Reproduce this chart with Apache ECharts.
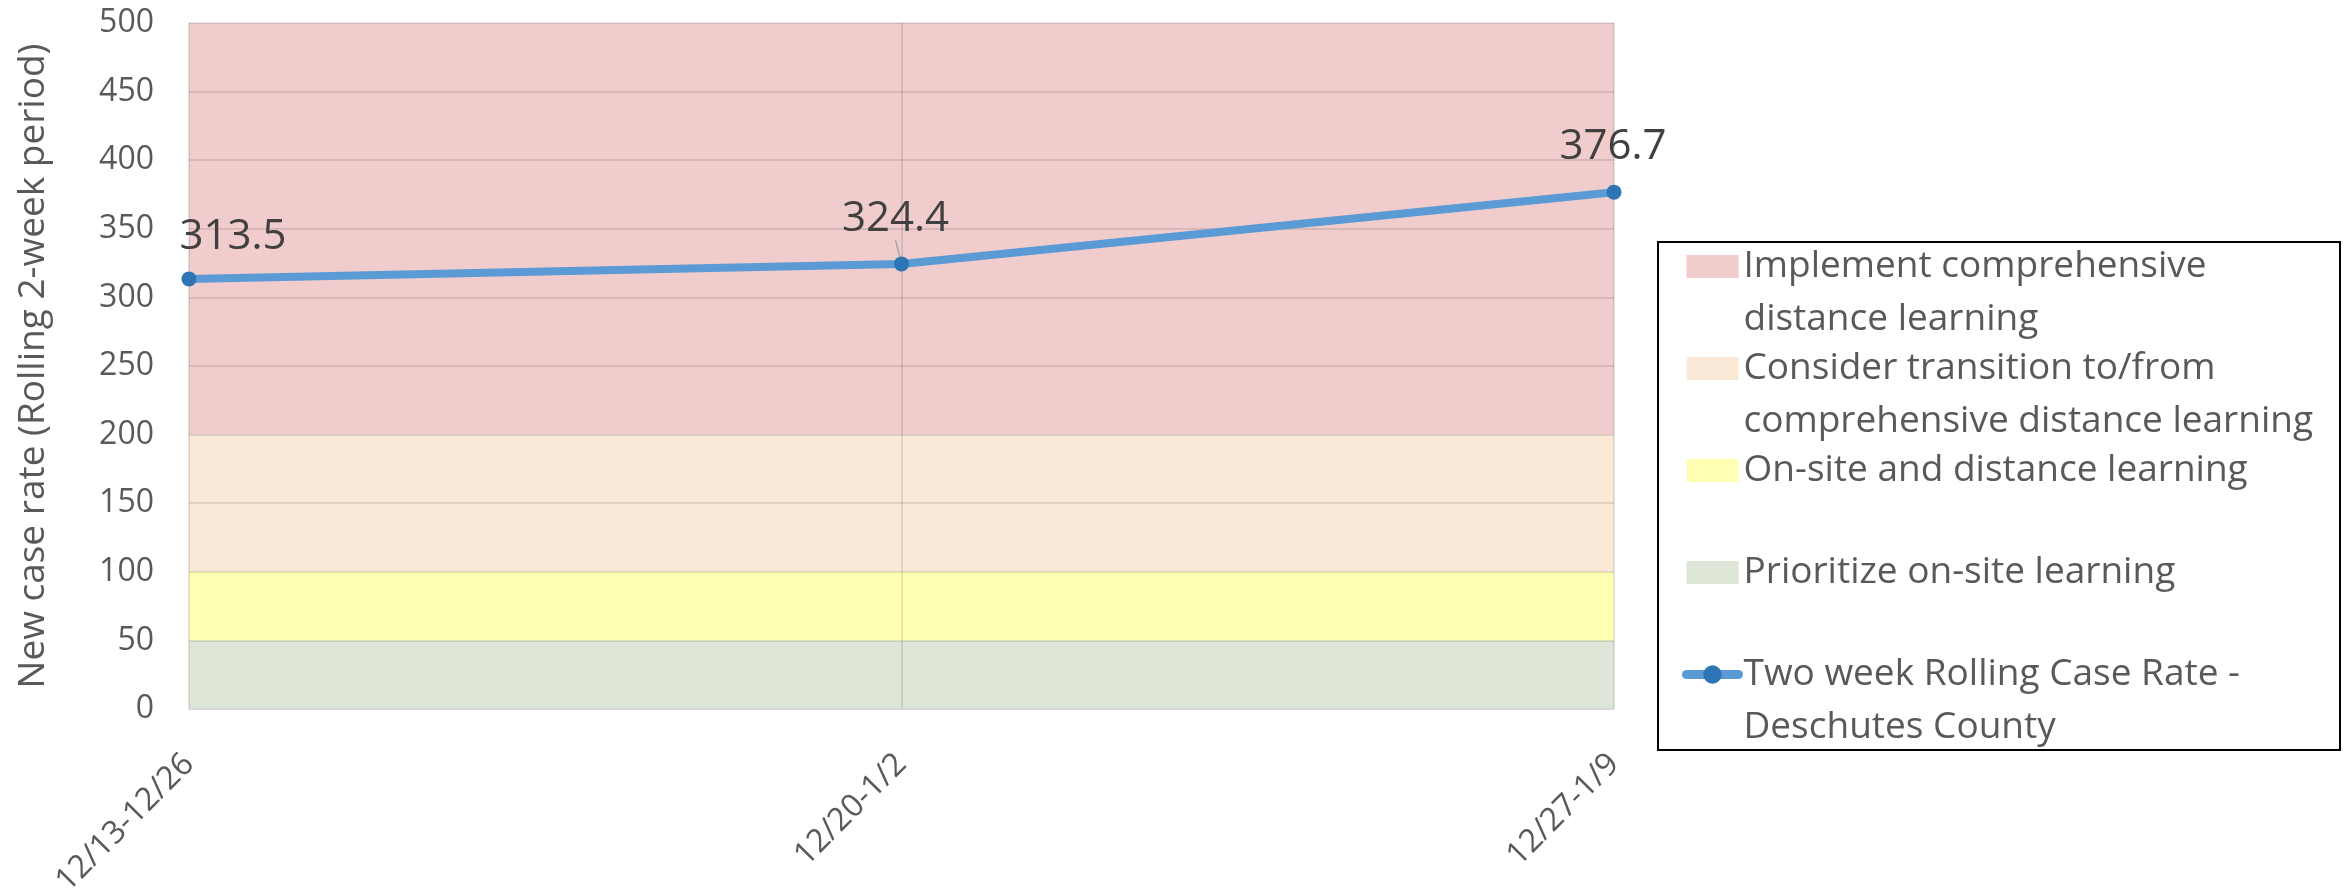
<!DOCTYPE html>
<html>
<head>
<meta charset="utf-8">
<script src="https://cdn.jsdelivr.net/npm/echarts@6/dist/echarts.min.js"></script>
<style>
  html, body { margin: 0; padding: 0; background: #fff; }
  #chart { width: 2344px; height: 893px; }
</style>
</head>
<body>
<div id="chart"></div>
<script>
// ---- Data ----
const CATEGORIES = ['12/13-12/26', '12/20-1/2', '12/27-1/9'];
const CASE_RATE = [313.5, 324.4, 376.7];
// Threshold bands (stacked thickness of each band)
const BAND_GREEN = [50, 50, 50];    // 0 - 50
const BAND_YELLOW = [50, 50, 50];   // 50 - 100
const BAND_PEACH = [100, 100, 100]; // 100 - 200
const BAND_PINK = [300, 300, 300];  // 200 - 500
const Y_MIN = 0, Y_MAX = 500, Y_STEP = 50;

const NAME_PINK = 'Implement comprehensive distance learning';
const NAME_PEACH = 'Consider transition to/from comprehensive distance learning';
const NAME_YELLOW = 'On-site and distance learning';
const NAME_GREEN = 'Prioritize on-site learning';
const NAME_LINE = 'Two week Rolling Case Rate - Deschutes County';
const AXIS_TITLE = 'New case rate (Rolling 2-week period)';

// ---- Styles ----
const LEGEND_TEXT = {};
LEGEND_TEXT[NAME_PINK] = '\nImplement comprehensive\ndistance learning';
LEGEND_TEXT[NAME_PEACH] = '\nConsider transition to/from\ncomprehensive distance learning';
LEGEND_TEXT[NAME_YELLOW] = '\nOn-site and distance learning\n';
LEGEND_TEXT[NAME_GREEN] = '\nPrioritize on-site learning\n';
LEGEND_TEXT[NAME_LINE] = '\nTwo week Rolling Case Rate -\nDeschutes County';
const LABEL_OFFSETS = [[44, -42], [-6, -45], [-1, -45]];
const FONT = '"Open Sans", "Noto Sans", sans-serif';

function band(name, data, color) {
  return {
    name: name, type: 'line', stack: 'bands', data: data,
    symbol: 'none', lineStyle: { width: 0 }, itemStyle: { color: color },
    areaStyle: { color: color, opacity: 1 }, silent: true, z: 1,
    emphasis: { disabled: true }
  };
}

const chart = echarts.init(document.getElementById('chart'));
chart.setOption({
  animation: false,
  backgroundColor: '#ffffff',
  grid: { left: 189, right: 730, top: 23, bottom: 184, containLabel: false, outerBoundsMode: 'none' },
  xAxis: {
    type: 'category', data: CATEGORIES, boundaryGap: false, z: 3,
    axisLine: { show: true, lineStyle: { color: '#D9D9D9', width: 2 } },
    axisTick: { show: false },
    axisLabel: { rotate: 45, margin: 50, fontSize: 32, fontFamily: FONT, color: '#595959' },
    splitLine: { show: true, lineStyle: { color: 'rgba(0,0,0,0.1)', width: 2 } }
  },
  yAxis: {
    type: 'value', min: Y_MIN, max: Y_MAX, interval: Y_STEP, z: 3,
    name: AXIS_TITLE, nameLocation: 'middle', nameGap: 137,
    nameTextStyle: { fontSize: 37, fontFamily: FONT, color: '#595959' },
    axisLine: { show: false }, axisTick: { show: false },
    axisLabel: { margin: 35, fontSize: 32, fontFamily: FONT, color: '#595959' },
    splitLine: { show: true, lineStyle: { color: 'rgba(0,0,0,0.1)', width: 2 } }
  },
  legend: {
    orient: 'vertical', left: 1682, top: 187, padding: 0,
    itemWidth: 52, itemHeight: 23, itemGap: -57,
    data: [
      { name: NAME_PINK, icon: 'rect' },
      { name: NAME_PEACH, icon: 'rect' },
      { name: NAME_YELLOW, icon: 'rect' },
      { name: NAME_GREEN, icon: 'rect' },
      { name: NAME_LINE, lineStyle: { width: 9, cap: 'round', color: '#5B9BD5' } }
    ],
    formatter: function (name) { return LEGEND_TEXT[name] || name; },
    textStyle: { fontSize: 37, fontFamily: FONT, color: '#595959', lineHeight: 53 },
    selectedMode: false
  },
  graphic: [{
    type: 'rect', shape: { x: 1658, y: 242, width: 682, height: 508 },
    style: { fill: 'none', stroke: '#000000', lineWidth: 2 }, silent: true
  }],
  series: [
    band(NAME_GREEN, BAND_GREEN, '#DEE6D8'),
    band(NAME_YELLOW, BAND_YELLOW, '#FFFFB3'),
    band(NAME_PEACH, BAND_PEACH, '#FBE9D7'),
    band(NAME_PINK, BAND_PINK, '#F1CCCD'),
    {
      name: NAME_LINE, type: 'line', z: 10,
      data: CASE_RATE.map(function (v, i) {
        const item = {
          value: v,
          label: { offset: LABEL_OFFSETS[i] }
        };
        if (i === 1) item.labelLine = { show: true, lineStyle: { color: '#A6A6A6', width: 1.5 } };
        return item;
      }),
      symbol: 'circle', symbolSize: 15,
      lineStyle: { color: '#5B9BD5', width: 8, cap: 'round' },
      itemStyle: { color: '#2E75B6' },
      label: {
        show: true, position: 'inside', fontSize: 42, fontFamily: FONT, color: '#404040',
        formatter: function (p) { return p.value.toFixed(1); }
      },
      emphasis: { disabled: true }
    }
  ]
});
</script>
</body>
</html>
